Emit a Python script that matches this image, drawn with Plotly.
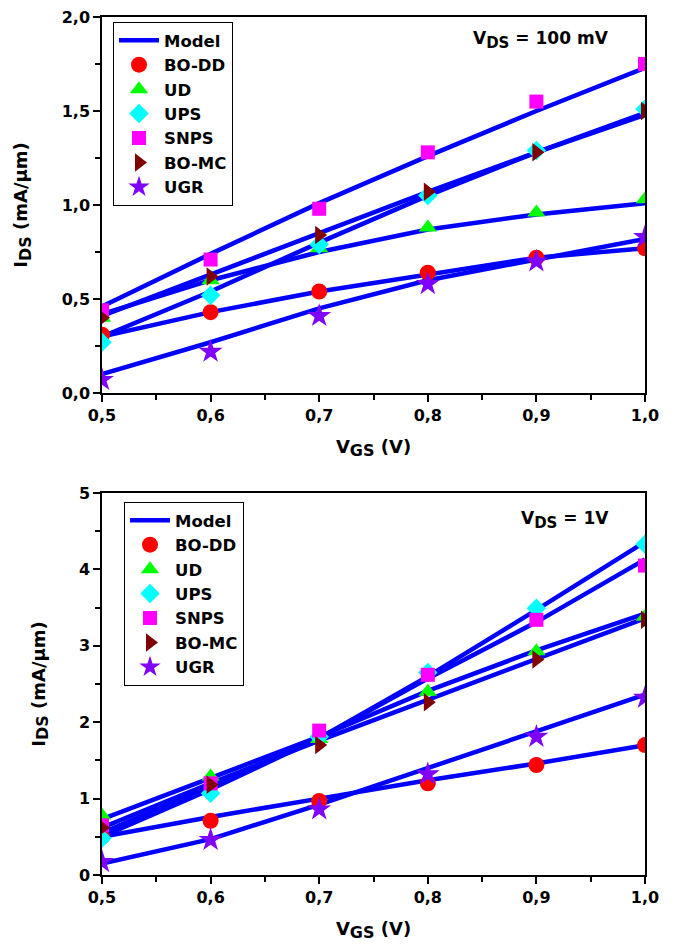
import plotly.graph_objects as go

vgs = [0.5, 0.6, 0.7, 0.8, 0.9, 1.0]
series_names = ["BO-DD", "UD", "UPS", "SNPS", "BO-MC", "UGR"]

# V_DS = 100 mV (top panel)
meas_100mV_bodd = [0.31, 0.43, 0.54, 0.64, 0.72, 0.77]
meas_100mV_ud = [0.40, 0.60, 0.77, 0.88, 0.96, 1.03]
meas_100mV_ups = [0.27, 0.52, 0.79, 1.05, 1.29, 1.51]
meas_100mV_snps = [0.44, 0.71, 0.98, 1.28, 1.55, 1.75]
meas_100mV_bomc = [0.40, 0.62, 0.84, 1.07, 1.28, 1.50]
meas_100mV_ugr = [0.07, 0.22, 0.41, 0.58, 0.70, 0.83]

model_100mV_bodd = [0.30, 0.43, 0.54, 0.63, 0.72, 0.77]
model_100mV_ud = [0.42, 0.60, 0.75, 0.87, 0.95, 1.01]
model_100mV_ups = [0.30, 0.54, 0.80, 1.05, 1.28, 1.48]
model_100mV_snps = [0.46, 0.74, 1.01, 1.26, 1.50, 1.73]
model_100mV_bomc = [0.41, 0.63, 0.85, 1.07, 1.28, 1.49]
model_100mV_ugr = [0.10, 0.27, 0.45, 0.60, 0.71, 0.82]

# V_DS = 1 V (bottom panel)
meas_1V_bodd = [0.50, 0.71, 0.97, 1.20, 1.44, 1.70]
meas_1V_ud = [0.78, 1.29, 1.78, 2.40, 2.93, 3.38]
meas_1V_ups = [0.48, 1.07, 1.81, 2.65, 3.49, 4.33]
meas_1V_snps = [0.65, 1.20, 1.89, 2.62, 3.34, 4.05]
meas_1V_bomc = [0.62, 1.18, 1.70, 2.26, 2.82, 3.34]
meas_1V_ugr = [0.17, 0.46, 0.86, 1.32, 1.81, 2.32]

model_1V_bodd = [0.50, 0.76, 1.00, 1.24, 1.46, 1.70]
model_1V_ud = [0.73, 1.27, 1.81, 2.41, 2.94, 3.42]
model_1V_ups = [0.50, 1.12, 1.79, 2.60, 3.47, 4.36]
model_1V_snps = [0.55, 1.16, 1.79, 2.57, 3.31, 4.13]
model_1V_bomc = [0.62, 1.20, 1.76, 2.29, 2.82, 3.36]
model_1V_ugr = [0.15, 0.47, 0.92, 1.40, 1.88, 2.36]

x_ticks = [0.5, 0.6, 0.7, 0.8, 0.9, 1.0]
y_ticks_top = [0.0, 0.5, 1.0, 1.5, 2.0]
y_ticks_bottom = [0, 1, 2, 3, 4, 5]

styles = {
    "BO-DD": dict(symbol="circle", color="#FF0000", size=16),
    "UD": dict(symbol="triangle-up", color="#00FF00", size=16),
    "UPS": dict(symbol="diamond", color="#00FFFF", size=15),
    "SNPS": dict(symbol="square", color="#FF00FF", size=14),
    "BO-MC": dict(symbol="triangle-right", color="#800000", size=16),
    "UGR": dict(symbol="star", color="#7F00FF", size=18),
}

panels = [
    dict(xa="x", ya="y", legend="legend",
         meas=[meas_100mV_bodd, meas_100mV_ud, meas_100mV_ups, meas_100mV_snps, meas_100mV_bomc, meas_100mV_ugr],
         model=[model_100mV_bodd, model_100mV_ud, model_100mV_ups, model_100mV_snps, model_100mV_bomc, model_100mV_ugr]),
    dict(xa="x2", ya="y2", legend="legend2",
         meas=[meas_1V_bodd, meas_1V_ud, meas_1V_ups, meas_1V_snps, meas_1V_bomc, meas_1V_ugr],
         model=[model_1V_bodd, model_1V_ud, model_1V_ups, model_1V_snps, model_1V_bomc, model_1V_ugr]),
]

BLUE = "#0000FF"
fig = go.Figure()
for p in panels:
    for i, m in enumerate(p["model"]):
        fig.add_trace(go.Scatter(
            x=vgs, y=m, mode="lines", name="Model",
            line=dict(color=BLUE, width=4.5),
            xaxis=p["xa"], yaxis=p["ya"], legend=p["legend"],
            showlegend=(i == 0), legendgroup="model" + p["xa"]))
    for name, vals in zip(series_names, p["meas"]):
        s = styles[name]
        fig.add_trace(go.Scatter(
            x=vgs, y=vals, mode="markers", name=name,
            marker=dict(symbol=s["symbol"], color=s["color"], size=s["size"], line=dict(width=0)),
            xaxis=p["xa"], yaxis=p["ya"], legend=p["legend"]))

FONT = "DejaVu Sans"
tickfont = dict(family=FONT, size=16, color="black", weight="bold")
titlefont = dict(family=FONT, size=18, color="black", weight="bold")

def sub(t, px):
    return "<sub><span style='font-size:%dpx'>%s</span></sub>" % (px, t)

# page offset (body margin) of 8 px
OFF = 8
W, H = 675 - OFF, 949 - OFF
L, R, T, B = 102 - OFF, 30, 17 - OFF, 74
ph = H - T - B
def py(pix):  # window pixel -> paper y
    return (H - B - (pix - OFF)) / ph
def px(pix):  # window pixel -> paper x
    return (pix - OFF - L) / (W - L - R)

top_dom = [py(393), 1.0]
bot_dom = [0.0, py(493)]

def xax(anchor, title):
    return dict(range=[0.5, 1.0], anchor=anchor, tickvals=x_ticks, tickformat=".1f",
                ticks="outside", ticklen=7, tickwidth=1.5, tickcolor="black",
                showline=True, linewidth=1.5, linecolor="black", mirror=True,
                showgrid=False, zeroline=False, tickfont=tickfont, ticklabeloverflow="allow",
                minor=dict(dtick=0.05, tick0=0.5, ticks="outside", ticklen=5, tickwidth=1.5, tickcolor="black"),
                title=dict(text=title, font=titlefont, standoff=16))

def yax(anchor, dom, rng, tv, fmt, mdt, title):
    return dict(range=rng, domain=dom, anchor=anchor, tickvals=tv, tickformat=fmt,
                ticks="outside", ticklen=7, tickwidth=1.5, tickcolor="black",
                showline=True, linewidth=1.5, linecolor="black", mirror=True,
                showgrid=False, zeroline=False, tickfont=tickfont, ticklabeloverflow="allow",
                minor=dict(dtick=mdt, tick0=0, ticks="outside", ticklen=5, tickwidth=1.5, tickcolor="black"),
                title=dict(text=title, font=titlefont, standoff=29))

def mirror_ax(over, anchor, side, rng, dt, t0):
    return dict(overlaying=over, anchor=anchor, side=side, range=rng,
                showticklabels=False, showline=False, showgrid=False, zeroline=False,
                ticks="inside", ticklen=3, tickwidth=1.2, tickcolor="black",
                dtick=dt, tick0=t0,
                minor=dict(dtick=dt / 2, tick0=t0, ticks="inside", ticklen=3, tickwidth=1.2, tickcolor="black"))

legend_common = dict(bgcolor="white", bordercolor="black", borderwidth=1,
                     font=dict(family=FONT, size=16.5, color="black", weight="bold"),
                     xanchor="left", yanchor="top", tracegroupgap=0, itemwidth=40)

ann_font = dict(family=FONT, size=17, color="black", weight="bold")

fig.update_layout(
    width=W, height=H, separators=",.",
    paper_bgcolor="white", plot_bgcolor="white",
    margin=dict(l=L, r=R, t=T, b=B, autoexpand=False),
    xaxis=xax("y", "V" + sub("GS", 16) + " (V)"),
    yaxis=yax("x", top_dom, [0, 2.0], y_ticks_top, ".1f", 0.25, "I" + sub("DS", 16) + " (mA/µm)"),
    xaxis2=xax("y2", "V" + sub("GS", 16) + " (V)"),
    yaxis2=yax("x2", bot_dom, [0, 5], y_ticks_bottom, "d", 0.5, "I" + sub("DS", 16) + " (mA/µm)"),
    xaxis3=mirror_ax("x", "y", "top", [0.5, 1.0], 0.1, 0.5),
    xaxis4=mirror_ax("x2", "y2", "top", [0.5, 1.0], 0.1, 0.5),
    yaxis3=mirror_ax("y", "x", "right", [0, 2.0], 0.5, 0),
    yaxis4=mirror_ax("y2", "x2", "right", [0, 5], 1, 0),
    legend=dict(x=px(113), y=py(22), **legend_common),
    legend2=dict(x=px(124), y=py(502), **legend_common),
    annotations=[
        dict(text="V" + sub("DS", 15) + " = 100 mV", xref="paper", yref="paper",
             x=px(611), y=py(40), xanchor="right", yanchor="middle",
             showarrow=False, font=ann_font),
        dict(text="V" + sub("DS", 15) + " = 1V", xref="paper", yref="paper",
             x=px(611), y=py(520), xanchor="right", yanchor="middle",
             showarrow=False, font=ann_font),
    ],
)

fig.write_html("out.html")
